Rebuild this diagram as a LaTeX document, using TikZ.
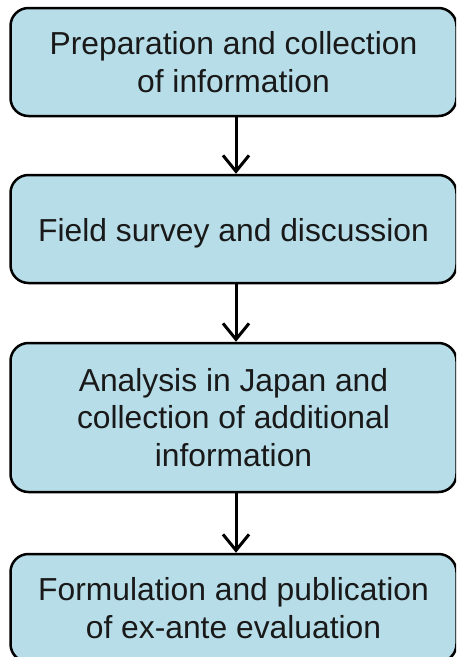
\documentclass[tikz,border=0pt]{standalone}
\usepackage{fontspec}
\setmainfont{Liberation Sans}
\usetikzlibrary{arrows.meta}
\definecolor{boxfill}{RGB}{183,221,232}
\begin{document}
\begin{tikzpicture}[x=1pt,y=-1pt,
  stepbox/.style={draw=black, line width=2.5pt, fill=boxfill, rounded corners=18pt,
    minimum width=446pt, align=center, inner sep=0pt,
    font=\fontsize{31.8}{37.5}\selectfont, text=black!90},
  flow/.style={line width=3pt, -{Straight Barb[length=16pt,width=26pt,line width=3pt]}}]
\useasboundingbox (0,0) rectangle (456,657);
\clip (0,0) rectangle (456,657);
\node[stepbox, minimum height=108pt] (b1) at (233.5,62) {Preparation and collection\\of information};
\node[stepbox, minimum height=108pt] (b2) at (233.5,229) {\raisebox{-4pt}[\height][\depth]{Field survey and discussion}};
\node[stepbox, minimum height=149pt] (b3) at (233.5,417.5) {Analysis in Japan and\\collection of additional\\information};
\node[stepbox, minimum height=108pt] (b4) at (233.5,608) {Formulation and publication\\of ex-ante evaluation};
\draw[flow] ([xshift=2.5pt]b1.south) -- ([xshift=2.5pt]b2.north);
\draw[flow] ([xshift=2.5pt]b2.south) -- ([xshift=2.5pt]b3.north);
\draw[flow] ([xshift=2.5pt]b3.south) -- ([xshift=2.5pt]b4.north);
\end{tikzpicture}
\end{document}
